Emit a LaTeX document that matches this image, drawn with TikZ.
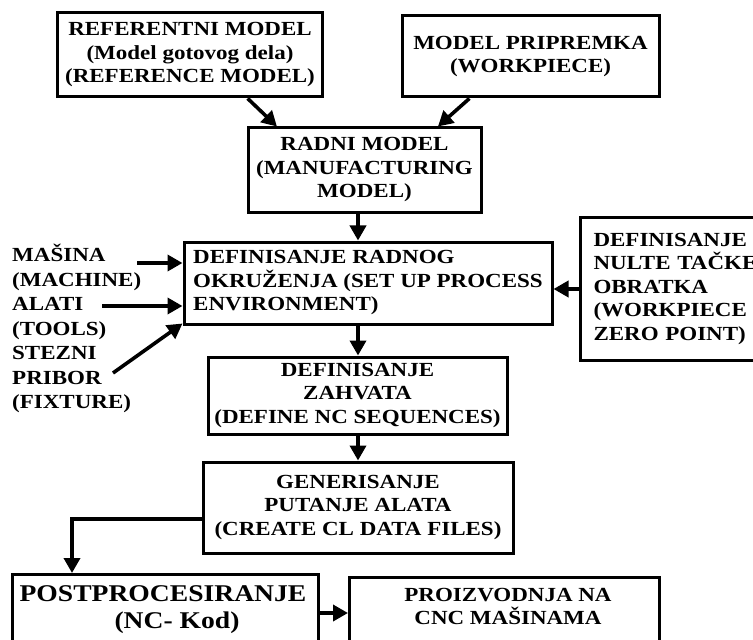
\documentclass[tikz,border=0pt]{standalone}
\usepackage{fontspec}
\setmainfont{Liberation Serif}[FakeStretch=1.15]
\usetikzlibrary{arrows.meta,calc}
\begin{document}
\begin{tikzpicture}[x=1bp,y=-1bp,
  txt/.style={font=\fontsize{20bp}{23.5bp}\selectfont\bfseries},
  box/.style={draw, line width=3bp, rectangle, inner sep=0pt, txt, align=center},
  arr/.style={line width=3.6bp, -{Triangle[length=15bp,width=16bp]}}]
\useasboundingbox (0,0) rectangle (753,640);
\clip (0,0) rectangle (753,640);
% boxes
\node[box, minimum width=264bp, minimum height=84bp] (b1) at (190,55)
  {REFERENTNI MODEL\\(Model gotovog dela)\\(REFERENCE MODEL)};
\node[box, minimum width=257bp, minimum height=81bp] (b2) at (530.5,56.5)
  {MODEL PRIPREMKA\\(WORKPIECE)};
\node[box, minimum width=233bp, minimum height=84bp] (b3) at (364.5,170)
  {RADNI MODEL\\(MANUFACTURING\\MODEL)};
\node[box, align=left, minimum width=368bp, minimum height=82bp] (b4) at (368,283)
  {DEFINISANJE RADNOG\\OKRUŽENJA (SET UP PROCESS\\ENVIRONMENT)};
\node[box, align=left, text width=200bp, inner xsep=13bp, minimum height=142bp, anchor=west] (b5) at (579,289)
  {DEFINISANJE\\NULTE TAČKE\\OBRATKA\\(WORKPIECE\\ZERO POINT)};
\node[box, minimum width=299bp, minimum height=77bp] (b6) at (357.5,395.5)
  {DEFINISANJE\\ZAHVATA\\(DEFINE NC SEQUENCES)};
\node[box, minimum width=310bp, minimum height=91bp] (b7) at (358,507.5)
  {GENERISANJE\\PUTANJE ALATA\\(CREATE CL DATA FILES)};
\node[box, minimum width=306bp, minimum height=120bp, anchor=north west] (b8) at (11,573) {};
\node[box, minimum width=310bp, minimum height=120bp, anchor=north west] (b9) at (348,576) {};
\node[txt, font=\fontsize{24bp}{27bp}\selectfont\bfseries, align=center, inner sep=0pt, anchor=north] (b8t) at (163,585)
  {POSTPROCESIRANJE\\\hspace*{28bp}(NC- Kod)};
\node[txt, align=center, inner sep=0pt, anchor=north] (b9t) at (508,588)
  {PROIZVODNJA NA\\CNC MAŠINAMA};
% left inputs
\node[txt, font=\fontsize{20bp}{24.5bp}\selectfont\bfseries, align=left, inner sep=0pt, anchor=north west] (inputs) at (12,244)
  {MAŠINA\\(MACHINE)\\ALATI\\(TOOLS)\\STEZNI\\PRIBOR\\(FIXTURE)};
\coordinate (m1) at (137,263);
\coordinate (m2) at (102,306);
\coordinate (m3) at (113,373);
\coordinate (spine) at (358,0);
\coordinate (turn) at (72,519);
\coordinate (mid) at (0,613);
% connectors
\draw[arr] ($(b1.south west)!0.716!(b1.south east)$) -- ($(b3.north west)!0.129!(b3.north east)$);
\draw[arr] ($(b2.south west)!0.265!(b2.south east)$) -- ($(b3.north west)!0.811!(b3.north east)$);
\draw[arr] (b3.south -| spine) -- (b4.north -| spine);
\draw[arr] (b4.south -| spine) -- (b6.north -| spine);
\draw[arr] (b6.south -| spine) -- (b7.north -| spine);
\draw[arr] (b5.west) -- (b4.east |- b5.west);
\draw[arr] (m1) -- (b4.west |- m1);
\draw[arr] (m2) -- (b4.west |- m2);
\draw[arr] (m3) -- ($(b4.south west)+(0,-2)$);
\draw[arr] (b7.west |- turn) -- (turn) -- (b8.north -| turn);
\draw[arr] (b8.east |- mid) -- (b9.west |- mid);
\end{tikzpicture}
\end{document}
